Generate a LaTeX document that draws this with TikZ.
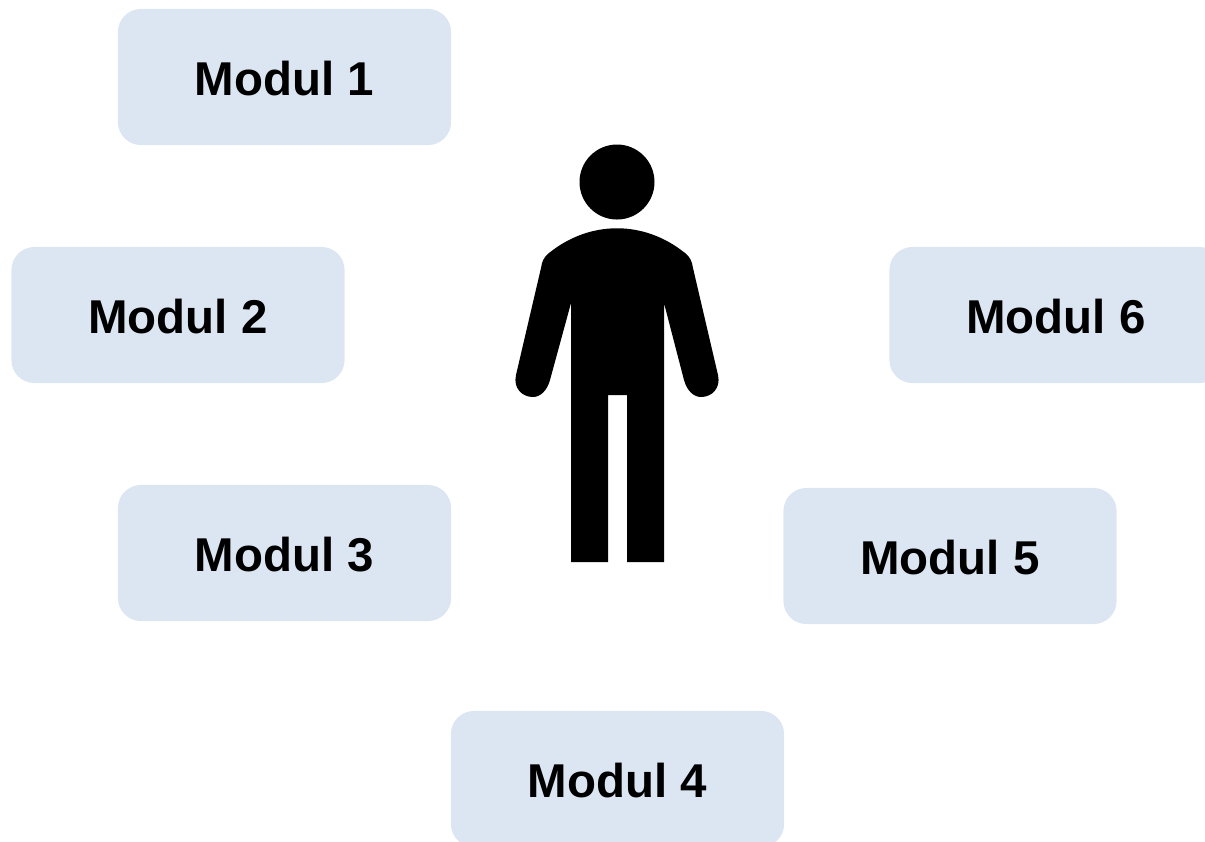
\documentclass[tikz,border=0pt]{standalone}
\usepackage{fontspec}
\setmainfont{Liberation Sans}
\definecolor{modulfill}{HTML}{DCE6F2}
\tikzset{modul/.style={fill=modulfill, rounded corners=.23cm, minimum width=3.33cm, minimum height=1.36cm, inner sep=0pt, text height=10.5pt, text depth=0pt, font=\fontsize{13.5pt}{16pt}\selectfont\bfseries}}

\begin{document}
\begin{tikzpicture}[x=.01cm, y=-.01cm]
\useasboundingbox (0,0) rectangle (1205,841);

\node[modul] (modul1) at (284.5,77) {Modul 1};
\node[modul] (modul2) at (178,315) {Modul 2};
\node[modul] (modul3) at (284.5,553) {Modul 3};
\node[modul] (modul4) at (617.5,779) {Modul 4};
\node[modul] (modul5) at (950,556) {Modul 5};
\node[modul] (modul6) at (1056,315) {Modul 6};

% person
\fill (617,182) circle[radius=37.5];
\fill (571,562) -- (571,303) -- (550,380)
  .. controls (547,391) and (540,397) .. (533,397)
  .. controls (522,397) and (513,388) .. (516,375)
  -- (541,268)
  .. controls (542,261) and (544,257) .. (549,253)
  .. controls (590,220) and (644,220) .. (685,253)
  .. controls (690,257) and (692,261) .. (693,268)
  -- (718,375)
  .. controls (721,388) and (712,397) .. (701,397)
  .. controls (694,397) and (687,391) .. (684,380)
  -- (664,303) -- (664,562) -- (627,562) -- (627,395) -- (608,395) -- (608,562) -- cycle;
\end{tikzpicture}
\end{document}
